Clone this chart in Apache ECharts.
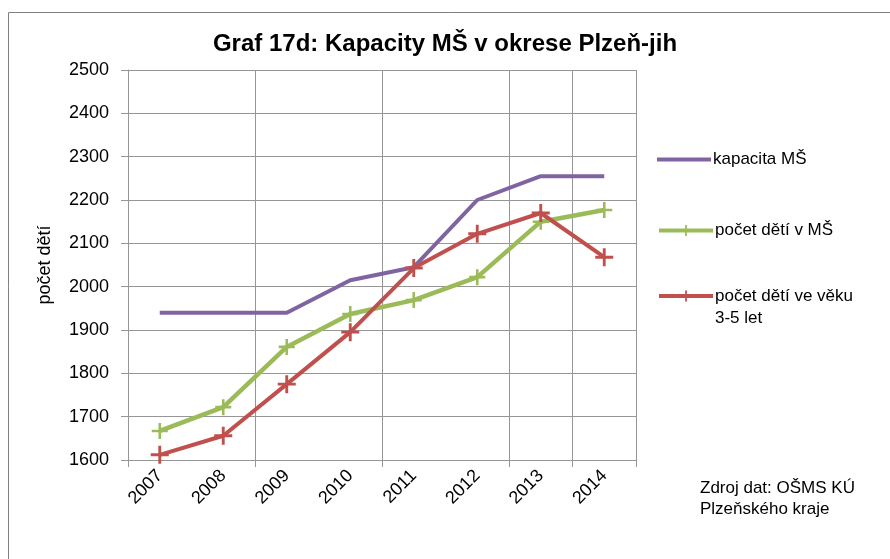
<!DOCTYPE html>
<html>
<head>
<meta charset="utf-8">
<script src="https://cdn.jsdelivr.net/npm/echarts@6/dist/echarts.min.js"></script>
<style>
  html, body { margin: 0; padding: 0; background: #fff; }
  #main { width: 890px; height: 559px; }
</style>
</head>
<body>
<div id="main"></div>
<script>
// data
var roky = ['2007', '2008', '2009', '2010', '2011', '2012', '2013', '2014'];
var kapacita = [1940, 1940, 1940, 2015, 2045, 2200, 2255, 2255];
var detiVMS = [1667, 1722, 1861, 1937, 1969, 2022, 2150, 2177];
var deti35 = [1612, 1656, 1775, 1895, 2043, 2122, 2170, 2068];
var nazvy = ['kapacita MŠ', 'počet dětí v MŠ', 'počet dětí ve věku 3-5 let'];

var font = '"Liberation Sans", Arial, sans-serif';
var plus = 'path://M4.2,0H5.8V4.2H10V5.8H5.8V10H4.2V5.8H0V4.2H4.2Z';

var chartDom = document.getElementById('main');
var myChart = echarts.init(chartDom);
var option;

// jedna legenda pro kazdou radu, at je lze umistit presne
function legenda(jmeno, top, extra) {
  var l = {
    data: [jmeno],
    orient: 'vertical',
    left: 657,
    top: top,
    padding: 0,
    itemWidth: 54,
    itemHeight: 14,
    itemGap: 0,
    lineStyle: { width: 4 },
    textStyle: { fontFamily: font, fontSize: 17, color: '#000', padding: [0, 0, 0, -3] }
  };
  for (var k in extra) l[k] = extra[k];
  return l;
}

option = {
  backgroundColor: '#fff',
  animation: false,
  title: {
    text: 'Graf 17d: Kapacity MŠ v okrese Plzeň-jih',
    left: 'center',
    top: 27,
    textStyle: { fontFamily: font, fontSize: 24, fontWeight: 'bold', color: '#000' }
  },
  legend: [
    legenda(nazvy[0], 151, { icon: 'rect', itemHeight: 4 }),
    legenda(nazvy[1], 222),
    legenda(nazvy[2], 263, {
      // prazdny prvni radek -> prvni radek textu je v urovni cary
      formatter: function () { return ' \npočet dětí ve věku\n3-5 let'; },
      textStyle: { fontFamily: font, fontSize: 17, color: '#000', lineHeight: 22, padding: [0, 0, 0, -3] }
    })
  ],
  grid: { left: 128, top: 70, right: 254, bottom: 99 },
  xAxis: {
    type: 'category',
    data: roky,
    boundaryGap: true,
    axisLine: { lineStyle: { color: '#969696', width: 1 } },
    axisTick: { show: true, interval: 1, length: 7, lineStyle: { color: '#969696' } },
    splitLine: { show: true, interval: 1, lineStyle: { color: '#969696', width: 1 } },
    axisLabel: {
      interval: 0,
      rotate: 45,
      margin: 13,
      fontFamily: font,
      fontSize: 18,
      color: '#000'
    }
  },
  yAxis: {
    type: 'value',
    min: 1600,
    max: 2500,
    interval: 100,
    name: 'počet dětí',
    nameLocation: 'middle',
    nameGap: 74,
    nameTextStyle: { fontFamily: font, fontSize: 18, color: '#000' },
    axisLine: { show: true, lineStyle: { color: '#969696', width: 1 } },
    axisTick: { show: true, length: 7, lineStyle: { color: '#969696' } },
    splitLine: { show: true, lineStyle: { color: '#969696', width: 1 } },
    axisLabel: {
      margin: 19,
      fontFamily: font,
      fontSize: 18,
      color: '#000',
      formatter: function (v) { return String(v); }
    }
  },
  graphic: [
    {
      type: 'rect',
      shape: { x: 8.5, y: 12.5, width: 890, height: 600 },
      style: { fill: 'none', stroke: '#808080', lineWidth: 1 },
      silent: true,
      z: -1
    },
    {
      type: 'text',
      left: 700,
      top: 478,
      style: {
        text: 'Zdroj dat: OŠMS KÚ\nPlzeňského kraje',
        fontFamily: font,
        fontSize: 17,
        lineHeight: 21,
        fill: '#000'
      }
    }
  ],
  series: [
    {
      name: nazvy[0],
      type: 'line',
      data: kapacita,
      symbol: 'none',
      lineStyle: { color: '#8064A2', width: 4 },
      itemStyle: { color: '#8064A2' }
    },
    {
      name: nazvy[1],
      type: 'line',
      data: detiVMS,
      symbol: plus,
      symbolSize: 16,
      lineStyle: { color: '#9BBB59', width: 4.5 },
      itemStyle: { color: '#9BBB59' }
    },
    {
      name: nazvy[2],
      type: 'line',
      data: deti35,
      symbol: plus,
      symbolSize: 18,
      lineStyle: { color: '#C0504D', width: 4 },
      itemStyle: { color: '#C0504D' }
    }
  ]
};

option && myChart.setOption(option);
</script>
</body>
</html>
